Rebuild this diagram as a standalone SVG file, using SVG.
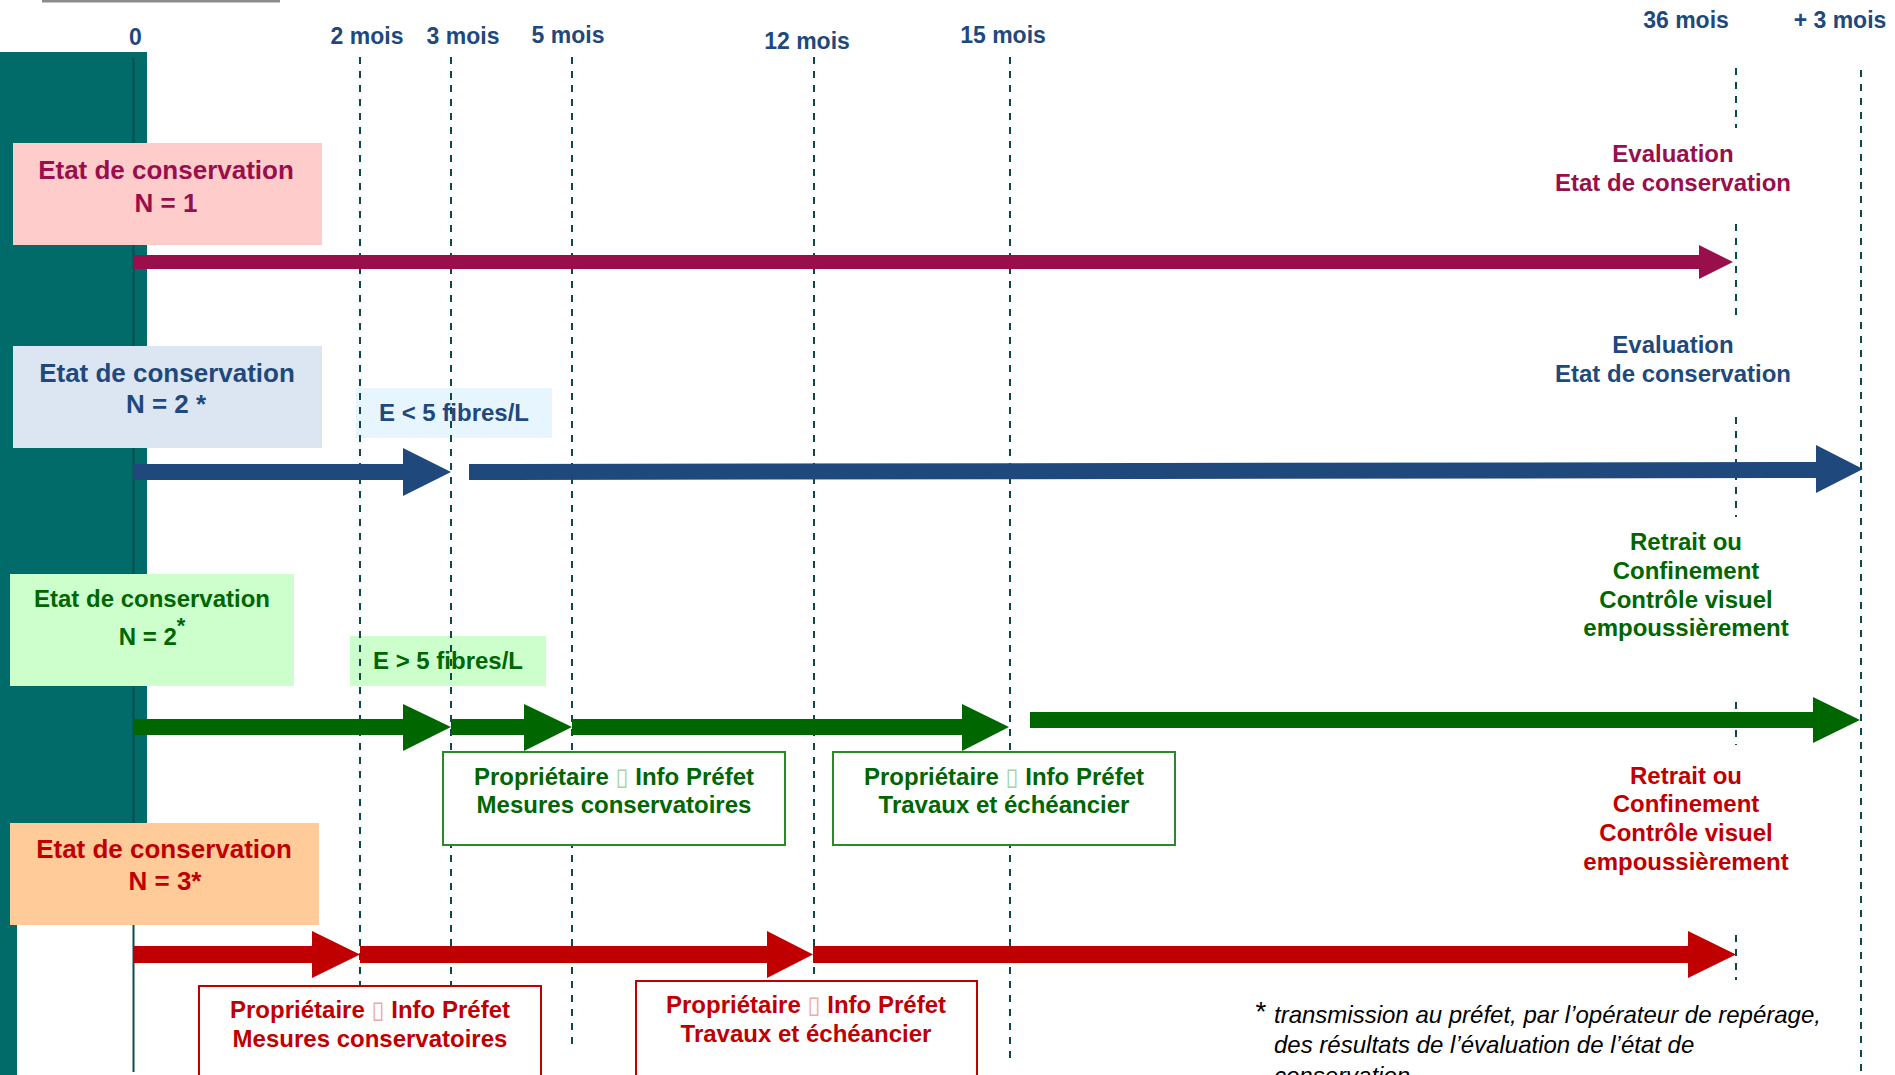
<svg xmlns="http://www.w3.org/2000/svg" width="1895" height="1075" viewBox="0 0 1895 1075">
<style>
text{font-family:"Liberation Sans",Arial,sans-serif;font-weight:bold;text-anchor:middle}
.ax{fill:#1F497D;font-size:23px}
.dash{stroke:#0B4A4A;stroke-width:2;stroke-dasharray:7 7;fill:none}
.t24{font-size:24px}
.t26{font-size:26px}
.mag{fill:#990F4C}
.blu{fill:#1F497D}
.grn{fill:#006600}
.red{fill:#C00000}
.tofuG{fill:#A6D3A6;font-weight:normal;font-family:"DejaVu Sans",sans-serif}
.tofuR{fill:#F0A8A8;font-weight:normal;font-family:"DejaVu Sans",sans-serif}
.foot{font-weight:normal;font-style:italic;font-size:24px;text-anchor:start;fill:#000}
</style>
<rect width="1895" height="1075" fill="#fff"/>
<g id="background">
<rect x="0" y="52" width="147" height="820" fill="#006B68"/>
<rect x="0" y="52" width="17" height="1023" fill="#006B68"/>
<rect x="42" y="0" width="238" height="2.5" fill="#8c8c8c"/>
</g>
<g id="cond-lt5">
<rect x="356" y="388" width="196" height="50" fill="#E6F5FE"/>
<text class="t24 blu" x="454" y="421">E &lt; 5 fibres/L</text>
</g>
<g id="cond-gt5">
<rect x="350" y="636" width="196" height="50" fill="#CCFFCC"/>
<text class="t24 grn" x="448" y="669">E &gt; 5 fibres/L</text>
</g>
<g id="gridlines">
<line class="dash" x1="360" y1="57" x2="360" y2="986"/>
<line class="dash" x1="451" y1="57" x2="451" y2="986"/>
<line class="dash" x1="572" y1="57" x2="572" y2="1045"/>
<line class="dash" x1="814" y1="57" x2="814" y2="981"/>
<line class="dash" x1="1010" y1="57" x2="1010" y2="1058"/>
<line class="dash" x1="1736" y1="68" x2="1736" y2="128"/>
<line class="dash" x1="1736" y1="224" x2="1736" y2="317"/>
<line class="dash" x1="1736" y1="417" x2="1736" y2="517"/>
<line class="dash" x1="1736" y1="702" x2="1736" y2="745"/>
<line class="dash" x1="1736" y1="935" x2="1736" y2="980"/>
<line class="dash" x1="1861" y1="70" x2="1861" y2="1075"/>
<line x1="133.5" y1="58" x2="133.5" y2="1072" stroke="#0B4D4B" stroke-width="2"/>
</g>
<g id="axis-labels">
<text class="ax" x="135.5" y="45">0</text>
<text class="ax" x="367" y="44">2 mois</text>
<text class="ax" x="463" y="44">3 mois</text>
<text class="ax" x="568" y="43">5 mois</text>
<text class="ax" x="807" y="49">12 mois</text>
<text class="ax" x="1003" y="43">15 mois</text>
<text class="ax" x="1686" y="28">36 mois</text>
<text class="ax" x="1840" y="28">+ 3 mois</text>
</g>
<g id="connectors">
<polygon class="mag" points="133,255 1699,255 1699,245 1733,262 1699,279 1699,269 133,269"/>
<polygon class="blu" points="133,464 403,464 403,448 451,472 403,496 403,480 133,480"/>
<polygon class="blu" points="469,464 1816,462 1816,445 1863,469 1816,493 1816,478 469,480"/>
<polygon class="grn" points="133,719 403,719 403,704 451,727 403,751 403,735 133,735"/>
<polygon class="grn" points="451,719 524,719 524,704 572,727 524,751 524,735 451,735"/>
<polygon class="grn" points="572,719 962,719 962,704 1009,727 962,751 962,735 572,735"/>
<polygon class="grn" points="1030,712 1813,712 1813,697 1860,720 1813,743 1813,728 1030,728"/>
<polygon class="red" points="133,946 312,946 312,931 360,954.5 312,978 312,963 133,963"/>
<polygon class="red" points="360,946 767,946 767,931 813,954.5 767,978 767,963 360,963"/>
<polygon class="red" points="813,946 1688,946 1688,931 1736,954.5 1688,978 1688,963 813,963"/>
</g>
<g id="n1">
<rect x="13" y="143" width="309" height="102" fill="#FFCCCC"/>
<text class="t26 mag" x="166" y="179">Etat de conservation</text>
<text class="t26 mag" x="166" y="212">N = 1</text>
</g>
<g id="n2-blue">
<rect x="13" y="346" width="309" height="102" fill="#DCE6F2"/>
<text class="t26 blu" x="167" y="382">Etat de conservation</text>
<text class="t26 blu" x="166" y="413">N = 2 *</text>
</g>
<g id="n2-green">
<rect x="10" y="574" width="284" height="112" fill="#CCFFCC"/>
<text class="t24 grn" x="152" y="607">Etat de conservation</text>
<text class="t24 grn" x="152" y="645">N = 2<tspan dy="-12" font-size="22">*</tspan></text>
</g>
<g id="n3">
<rect x="10" y="823" width="309" height="102" fill="#FFCC99"/>
<text class="t26 red" x="164" y="858">Etat de conservation</text>
<text class="t26 red" x="165" y="890">N = 3*</text>
</g>
<g id="g-mesures">
<rect x="443" y="752" width="342" height="93" fill="#fff" stroke="#2A8A2A" stroke-width="2"/>
<text class="t24 grn" x="614" y="785">Propriétaire <tspan class="tofuG">▯</tspan> Info Préfet</text>
<text class="t24 grn" x="614" y="813">Mesures conservatoires</text>
</g>
<g id="g-travaux">
<rect x="833" y="752" width="342" height="93" fill="#fff" stroke="#2A8A2A" stroke-width="2"/>
<text class="t24 grn" x="1004" y="785">Propriétaire <tspan class="tofuG">▯</tspan> Info Préfet</text>
<text class="t24 grn" x="1004" y="813">Travaux et échéancier</text>
</g>
<g id="r-mesures">
<rect x="199" y="986" width="342" height="100" fill="#fff" stroke="#C00000" stroke-width="2"/>
<text class="t24 red" x="370" y="1018">Propriétaire <tspan class="tofuR">▯</tspan> Info Préfet</text>
<text class="t24 red" x="370" y="1047">Mesures conservatoires</text>
</g>
<g id="r-travaux">
<rect x="636" y="981" width="341" height="105" fill="#fff" stroke="#C00000" stroke-width="2"/>
<text class="t24 red" x="806" y="1013">Propriétaire <tspan class="tofuR">▯</tspan> Info Préfet</text>
<text class="t24 red" x="806" y="1042">Travaux et échéancier</text>
</g>
<g id="eval-1">
<text class="t24 mag" x="1673" y="162">Evaluation</text>
<text class="t24 mag" x="1673" y="191">Etat de conservation</text>
</g>
<g id="eval-2">
<text class="t24 blu" x="1673" y="353">Evaluation</text>
<text class="t24 blu" x="1673" y="382">Etat de conservation</text>
</g>
<g id="retrait-green">
<text class="t24 grn" x="1686" y="550">Retrait ou</text>
<text class="t24 grn" x="1686" y="579">Confinement</text>
<text class="t24 grn" x="1686" y="608">Contrôle visuel</text>
<text class="t24 grn" x="1686" y="636">empoussièrement</text>
</g>
<g id="retrait-red">
<text class="t24 red" x="1686" y="784">Retrait ou</text>
<text class="t24 red" x="1686" y="812">Confinement</text>
<text class="t24 red" x="1686" y="841">Contrôle visuel</text>
<text class="t24 red" x="1686" y="870">empoussièrement</text>
</g>
<g id="footnote">
<text x="1261" y="1021" style="font-weight:normal;font-size:28px;fill:#000">*</text>
<text class="foot" x="1274" y="1023">transmission au préfet, par l’opérateur de repérage,</text>
<text class="foot" x="1274" y="1053">des résultats de l’évaluation de l’état de</text>
<text class="foot" x="1274" y="1084">conservation</text>
</g>
</svg>
